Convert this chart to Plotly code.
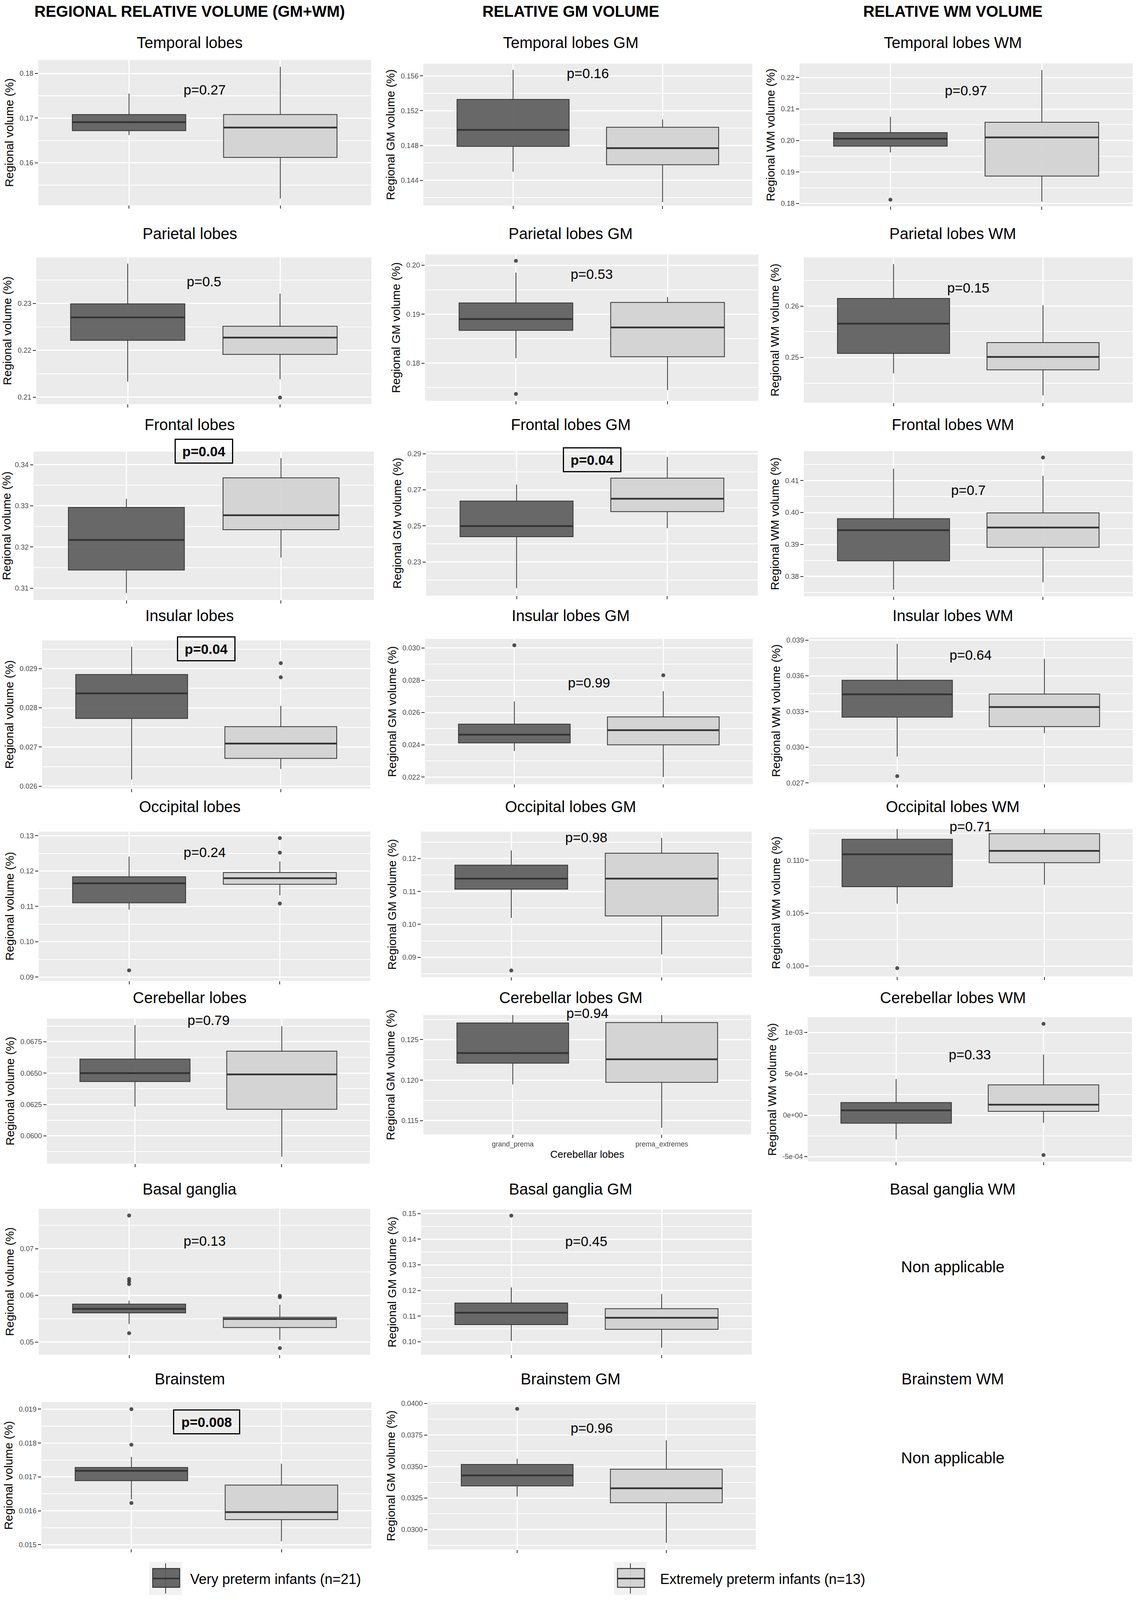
import plotly.graph_objects as go

W, H = 2911, 4338
FONT = "Liberation Sans, Arial, sans-serif"

# ---------------- text content ----------------
column_headers = ["REGIONAL RELATIVE VOLUME (GM+WM)", "RELATIVE GM VOLUME", "RELATIVE WM VOLUME"]
panel_titles = [
    "Temporal lobes", "Temporal lobes GM", "Temporal lobes WM",
    "Parietal lobes", "Parietal lobes GM", "Parietal lobes WM",
    "Frontal lobes", "Frontal lobes GM", "Frontal lobes WM",
    "Insular lobes", "Insular lobes GM", "Insular lobes WM",
    "Occipital lobes", "Occipital lobes GM", "Occipital lobes WM",
    "Cerebellar lobes", "Cerebellar lobes GM", "Cerebellar lobes WM",
    "Basal ganglia", "Basal ganglia GM", "Basal ganglia WM",
    "Brainstem", "Brainstem GM", "Brainstem WM",
]
not_applicable_panels = ["Basal ganglia WM", "Brainstem WM"]
not_applicable_text = "Non applicable"
y_titles = ["Regional volume (%)", "Regional GM volume (%)", "Regional WM volume (%)"]
group_names = ["Very preterm infants (n=21)", "Extremely preterm infants (n=13)"]
x_categories = ["grand_prema", "prema_extremes"]
x_labelled_panel = "Cerebellar lobes GM"
x_title_text = "Cerebellar lobes"

data_panels = [t for t in panel_titles if t not in not_applicable_panels]

# ---------------- box statistics (order = data_panels) ----------------
vp_low = [0.1662, 0.1450, 0.1962, 0.2133, 0.1810, 0.2469, 0.3088, 0.2154, 0.3759,
          0.02617, 0.02362, 0.02922, 0.1091, 0.1020, 0.1059, 0.06232, 0.11947, -0.000292,
          0.05387, 0.1004, 0.01634, 0.03262]
vp_q1 = [0.1672, 0.1479, 0.1982, 0.2221, 0.1867, 0.2508, 0.3144, 0.2440, 0.3849,
         0.02773, 0.02412, 0.03253, 0.1110, 0.1107, 0.1075, 0.06433, 0.1221, -0.0000959,
         0.05624, 0.1067, 0.01689, 0.03346]
vp_med = [0.1691, 0.1498, 0.2006, 0.2270, 0.1890, 0.2566, 0.3217, 0.2499, 0.3945,
          0.02837, 0.02463, 0.03445, 0.11655, 0.1139, 0.11056, 0.0650, 0.12335, 0.000059,
          0.0571, 0.11134, 0.01718, 0.0343]
vp_q3 = [0.1708, 0.1533, 0.2025, 0.2299, 0.1923, 0.2615, 0.3296, 0.2638, 0.3981,
         0.02885, 0.02528, 0.03563, 0.1184, 0.1180, 0.11198, 0.06612, 0.12706, 0.0001534,
         0.05812, 0.11511, 0.01728, 0.03517]
vp_high = [0.1755, 0.1567, 0.2075, 0.2385, 0.1985, 0.2682, 0.3317, 0.2730, 0.4137,
           0.02956, 0.02669, 0.03869, 0.1241, 0.1225, 0.1135, 0.06884, 0.1285, 0.000438,
           0.05887, 0.12122, 0.01759, 0.03562]
vp_outliers = [[], [], [0.1812], [], [0.2009, 0.1737], [], [], [], [],
               [], [0.03017], [0.02757], [0.0919], [0.0860], [0.0998], [], [], [],
               [0.0771, 0.0635, 0.0630, 0.0624, 0.0519], [0.1492], [0.0190, 0.01795, 0.01623], [0.03958]]

ep_low = [0.1520, 0.1415, 0.1806, 0.2138, 0.1745, 0.2426, 0.3174, 0.2487, 0.3782,
          0.02644, 0.0220, 0.03118, 0.11315, 0.0909, 0.10769, 0.05834, 0.11413, -0.00009,
          0.05046, 0.09765, 0.0151, 0.02895]
ep_q1 = [0.1612, 0.1458, 0.1887, 0.2191, 0.1813, 0.2476, 0.3242, 0.2579, 0.3891,
         0.02671, 0.0240, 0.03174, 0.11627, 0.10258, 0.10977, 0.06212, 0.11973, 0.0000472,
         0.05312, 0.10489, 0.01574, 0.03213]
ep_med = [0.1679, 0.1477, 0.2010, 0.2227, 0.1873, 0.2501, 0.3277, 0.2651, 0.3953,
          0.02709, 0.02491, 0.03338, 0.11798, 0.1139, 0.11088, 0.0649, 0.12258, 0.0001283,
          0.05495, 0.10939, 0.01596, 0.03328]
ep_q3 = [0.1708, 0.1501, 0.2058, 0.2251, 0.1924, 0.2529, 0.3368, 0.2765, 0.3999,
         0.02752, 0.02573, 0.03447, 0.11957, 0.12164, 0.11251, 0.06675, 0.12711, 0.0003673,
         0.0553, 0.11291, 0.01676, 0.03479]
ep_high = [0.1815, 0.1510, 0.2224, 0.2321, 0.1935, 0.2602, 0.3416, 0.2883, 0.4115,
           0.02805, 0.02732, 0.03743, 0.12273, 0.12629, 0.1135, 0.06874, 0.1285, 0.000733,
           0.05798, 0.11868, 0.01739, 0.03708]
ep_outliers = [[], [], [], [0.2099], [], [], [], [], [0.4172],
               [0.02914, 0.02878], [0.02831], [], [0.12933, 0.12522, 0.11082], [], [], [], [], [0.0011047, -0.000481],
               [0.0599, 0.0596, 0.0487], [], [], []]

p_labels = ["p=0.27", "p=0.16", "p=0.97", "p=0.5", "p=0.53", "p=0.15", "p=0.04", "p=0.04", "p=0.7",
            "p=0.04", "p=0.99", "p=0.64", "p=0.24", "p=0.98", "p=0.71", "p=0.79", "p=0.94", "p=0.33",
            "p=0.13", "p=0.45", "p=0.008", "p=0.96"]
p_significant = [False, False, False, False, False, False, True, True, False,
                 True, False, False, False, False, False, False, False, False,
                 False, False, True, False]

y_tickvals = [
    [0.16, 0.17, 0.18], [0.144, 0.148, 0.152, 0.156], [0.18, 0.19, 0.20, 0.21, 0.22],
    [0.21, 0.22, 0.23], [0.18, 0.19, 0.20], [0.25, 0.26],
    [0.31, 0.32, 0.33, 0.34], [0.23, 0.25, 0.27, 0.29], [0.38, 0.39, 0.40, 0.41],
    [0.026, 0.027, 0.028, 0.029], [0.022, 0.024, 0.026, 0.028, 0.030], [0.027, 0.030, 0.033, 0.036, 0.039],
    [0.09, 0.10, 0.11, 0.12, 0.13], [0.09, 0.10, 0.11, 0.12], [0.100, 0.105, 0.110],
    [0.0600, 0.0625, 0.0650, 0.0675], [0.115, 0.120, 0.125], [-0.0005, 0.0, 0.0005, 0.001],
    [0.05, 0.06, 0.07], [0.10, 0.11, 0.12, 0.13, 0.14, 0.15],
    [0.015, 0.016, 0.017, 0.018, 0.019], [0.0300, 0.0325, 0.0350, 0.0375, 0.0400],
]
y_ticktext = [
    ["0.16", "0.17", "0.18"], ["0.144", "0.148", "0.152", "0.156"], ["0.18", "0.19", "0.20", "0.21", "0.22"],
    ["0.21", "0.22", "0.23"], ["0.18", "0.19", "0.20"], ["0.25", "0.26"],
    ["0.31", "0.32", "0.33", "0.34"], ["0.23", "0.25", "0.27", "0.29"], ["0.38", "0.39", "0.40", "0.41"],
    ["0.026", "0.027", "0.028", "0.029"], ["0.022", "0.024", "0.026", "0.028", "0.030"],
    ["0.027", "0.030", "0.033", "0.036", "0.039"],
    ["0.09", "0.10", "0.11", "0.12", "0.13"], ["0.09", "0.10", "0.11", "0.12"], ["0.100", "0.105", "0.110"],
    ["0.0600", "0.0625", "0.0650", "0.0675"], ["0.115", "0.120", "0.125"], ["-5e-04", "0e+00", "5e-04", "1e-03"],
    ["0.05", "0.06", "0.07"], ["0.10", "0.11", "0.12", "0.13", "0.14", "0.15"],
    ["0.015", "0.016", "0.017", "0.018", "0.019"], ["0.0300", "0.0325", "0.0350", "0.0375", "0.0400"],
]

# ---------------- layout (axis ranges, pixel boxes, label positions) ----------------
y_ranges = [
    [0.1505, 0.1830], [0.1411, 0.1574], [0.1791, 0.2245],
    [0.2085, 0.2398], [0.1723, 0.2022], [0.2412, 0.2695],
    [0.3071, 0.3432], [0.2113, 0.2917], [0.3738, 0.4192],
    [0.02594, 0.02972], [0.02156, 0.03056], [0.02693, 0.03922],
    [0.08894, 0.13117], [0.08398, 0.1282], [0.09902, 0.11295],
    [0.0578, 0.06934], [0.1133, 0.12804], [-0.0005605, 0.0011844],
    [0.04731, 0.07855], [0.0950, 0.15161],
    [0.01488, 0.01921], [0.02842, 0.04012],
]
panel_px = [  # left, right, top, bottom (pixels of the 2911x4338 canvas)
    (98, 950, 157, 552), (1084, 1926, 167, 553), (2047, 2900, 166, 555),
    (93, 951, 694, 1093), (1088, 1942, 686, 1084), (2058, 2900, 694, 1089),
    (86, 957, 1222, 1626), (1091, 1940, 1220, 1614), (2058, 2900, 1221, 1616),
    (108, 948, 1736, 2139), (1088, 1927, 1732, 2127), (2071, 2900, 1728, 2126),
    (99, 948, 2256, 2662), (1078, 1925, 2256, 2652), (2071, 2900, 2249, 2650),
    (120, 947, 2765, 3159), (1084, 1923, 2755, 3080), (2068, 2898, 2761, 3154),
    (99, 948, 3282, 3679), (1078, 1925, 3284, 3679),
    (106, 951, 3808, 4207), (1095, 1935, 3808, 4209),
]
p_label_x = 1.5
p_label_y = [0.1764, 0.1563, 0.2159, 0.2347, 0.1982, 0.2636, 0.3433, 0.2867, 0.4071,
             0.02951, 0.02786, 0.03776, 0.1253, 0.1265, 0.1132, 0.06922, 0.12829, 0.000733,
             0.0717, 0.1393, 0.01863, 0.03806]
X_RANGE = [0.4, 2.6]
col_center_px = [486, 1461, 2439]
row_title_px = [109, 629, 1149, 1668, 2188, 2708, 3228, 3745]
header_y_px = 24
na_y_px = [3440, 3960]

BOX_W = 0.75
LINE = "#333333"
fills = ["rgba(92,92,92,0.92)", "rgba(209,209,209,0.92)"]


def fx(px):
    return px / W


def fy(py):
    return 1 - py / H


fig = go.Figure()
layout_axes = {}
annotations = []
shapes = []

groups = [
    (vp_low, vp_q1, vp_med, vp_q3, vp_high, vp_outliers),
    (ep_low, ep_q1, ep_med, ep_q3, ep_high, ep_outliers),
]

for i, title in enumerate(data_panels):
    n = i + 1
    xa = "x" if n == 1 else f"x{n}"
    ya = "y" if n == 1 else f"y{n}"
    col = panel_titles.index(title) % 3
    for g, (low, q1, med, q3, high, outl) in enumerate(groups):
        pos = g + 1
        fig.add_trace(go.Box(
            x=[pos], lowerfence=[low[i]], q1=[q1[i]], median=[med[i]], q3=[q3[i]],
            upperfence=[high[i]], width=BOX_W, fillcolor=fills[g],
            line=dict(color=LINE, width=2), whiskerwidth=0, boxpoints=False,
            xaxis=xa, yaxis=ya, hoverinfo="skip", showlegend=False))
        fig.add_trace(go.Scatter(
            x=[pos - BOX_W / 2, pos + BOX_W / 2], y=[med[i], med[i]], mode="lines",
            line=dict(color=LINE, width=4.5), xaxis=xa, yaxis=ya,
            hoverinfo="skip", showlegend=False))
        if outl[i]:
            fig.add_trace(go.Scatter(
                x=[pos] * len(outl[i]), y=outl[i], mode="markers",
                marker=dict(size=10, color="rgba(51,51,51,0.85)"),
                xaxis=xa, yaxis=ya, hoverinfo="skip", showlegend=False))

    l, r, t, b = panel_px[i]
    tv = y_tickvals[i]
    step = tv[1] - tv[0]
    minor_vals = [tv[0] - step / 2] + [(a + c) / 2 for a, c in zip(tv[:-1], tv[1:])] + [tv[-1] + step / 2]
    labelled = title == x_labelled_panel
    xaxis = dict(
        domain=[fx(l), fx(r)], anchor=ya, range=X_RANGE,
        tickmode="array", tickvals=[1, 2],
        ticktext=x_categories if labelled else ["", ""],
        ticks="outside", ticklen=8, tickwidth=2, tickcolor=LINE,
        tickfont=dict(family=FONT, size=18, color="#4D4D4D"),
        showgrid=True, gridcolor="white", gridwidth=3,
        zeroline=False, showline=False, fixedrange=True,
    )
    if labelled:
        xaxis["title"] = dict(text=x_title_text, font=dict(family=FONT, size=26, color="black"), standoff=6)
    yaxis = dict(
        domain=[fy(b), fy(t)], anchor=xa, range=y_ranges[i],
        tickmode="array", tickvals=tv, ticktext=y_ticktext[i],
        ticks="outside", ticklen=8, tickwidth=2, tickcolor=LINE,
        tickfont=dict(family=FONT, size=18, color="#4D4D4D"),
        showgrid=True, gridcolor="white", gridwidth=3,
        minor=dict(tickmode="array", tickvals=minor_vals, showgrid=True,
                   gridcolor="white", gridwidth=1.5, ticks=""),
        zeroline=False, showline=False, fixedrange=True,
        title=dict(text=y_titles[col], font=dict(family=FONT, size=30, color="black"), standoff=6),
    )
    layout_axes["xaxis" if n == 1 else f"xaxis{n}"] = xaxis
    layout_axes["yaxis" if n == 1 else f"yaxis{n}"] = yaxis

    # p-value label, converted from data units to figure fraction (may sit above the panel)
    r0, r1 = y_ranges[i]
    px_ = fx(l) + (p_label_x - X_RANGE[0]) / (X_RANGE[1] - X_RANGE[0]) * (fx(r) - fx(l))
    py_ = fy(b) + (p_label_y[i] - r0) / (r1 - r0) * (fy(t) - fy(b))
    if p_significant[i]:
        annotations.append(dict(
            x=px_, y=py_, xref="paper", yref="paper", text=f"<b>{p_labels[i]}</b>",
            showarrow=False, xanchor="center", yanchor="middle",
            font=dict(family=FONT, size=35, color="black"),
            bordercolor="black", borderwidth=3, borderpad=8,
            width=150 if len(p_labels[i]) > 6 else 128, height=42, align="center"))
    else:
        annotations.append(dict(
            x=px_, y=py_, xref="paper", yref="paper", text=p_labels[i],
            showarrow=False, xanchor="center", yanchor="middle",
            font=dict(family=FONT, size=35, color="black")))

# column headers
for c, txt in enumerate(column_headers):
    annotations.append(dict(x=fx(col_center_px[c]), y=fy(header_y_px), xref="paper", yref="paper",
                            text=f"<b>{txt}</b>", showarrow=False, xanchor="center", yanchor="middle",
                            font=dict(family=FONT, size=40, color="black")))

# panel titles
for k, txt in enumerate(panel_titles):
    row, col = divmod(k, 3)
    annotations.append(dict(x=fx(col_center_px[col]), y=fy(row_title_px[row]), xref="paper", yref="paper",
                            text=txt, showarrow=False, xanchor="center", yanchor="middle",
                            font=dict(family=FONT, size=40, color="black")))

# non applicable
for k, yy in enumerate(na_y_px):
    annotations.append(dict(x=fx(col_center_px[2]), y=fy(yy), xref="paper", yref="paper",
                            text=not_applicable_text, showarrow=False, xanchor="center", yanchor="middle",
                            font=dict(family=FONT, size=40, color="black")))

# legend (drawn manually, ggplot-style keys)
legend_key_px = [(382, 466), (1572, 1656)]
legend_text_px = [485, 1688]
key_top, key_bot = 4243, 4333
box_top, box_bot = 4261, 4312
whisk_top, whisk_bot = 4247, 4329
legend_mid = 4288
for g in range(2):
    kl, kr = legend_key_px[g]
    kc = (kl + kr) / 2
    shapes.append(dict(type="rect", xref="paper", yref="paper", x0=fx(kl), x1=fx(kr),
                       y0=fy(key_bot), y1=fy(key_top), fillcolor="#F2F2F2", line=dict(width=0), layer="below"))
    shapes.append(dict(type="line", xref="paper", yref="paper", x0=fx(kc), x1=fx(kc),
                       y0=fy(whisk_bot), y1=fy(whisk_top), line=dict(color=LINE, width=2)))
    shapes.append(dict(type="rect", xref="paper", yref="paper", x0=fx(kl + 9), x1=fx(kr - 6),
                       y0=fy(box_bot), y1=fy(box_top), fillcolor=fills[g], line=dict(color=LINE, width=2.5)))
    shapes.append(dict(type="line", xref="paper", yref="paper", x0=fx(kl + 9), x1=fx(kr - 6),
                       y0=fy(legend_mid), y1=fy(legend_mid), line=dict(color=LINE, width=4)))
    annotations.append(dict(x=fx(legend_text_px[g]), y=fy(legend_mid + 2), xref="paper", yref="paper",
                            text=group_names[g], showarrow=False, xanchor="left", yanchor="middle",
                            font=dict(family=FONT, size=36, color="black")))

fig.update_layout(
    width=W, height=H, margin=dict(l=0, r=0, t=0, b=0),
    paper_bgcolor="white", plot_bgcolor="#EBEBEB",
    showlegend=False, boxmode="overlay",
    font=dict(family=FONT, color="black"),
    annotations=annotations, shapes=shapes,
    **layout_axes,
)

fit_to_window = (
    "document.body.style.margin='0';"
    "document.body.style.overflow='hidden';"
    "var gd=document.getElementById('{plot_id}');"
    "Plotly.relayout(gd,{width:window.innerWidth,height:window.innerHeight});"
)
fig.write_html("out.html", config={"displayModeBar": False}, post_script=fit_to_window)
